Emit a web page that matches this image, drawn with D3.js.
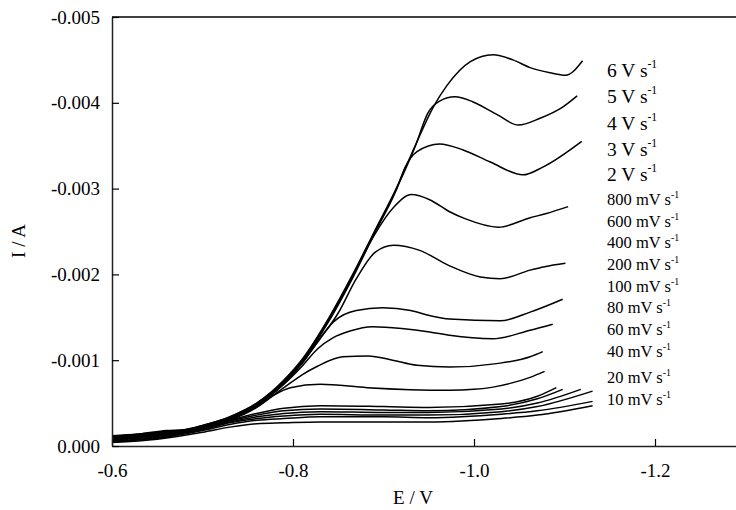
<!DOCTYPE html>
<html>
<head>
<meta charset="utf-8">
<script src="https://cdn.jsdelivr.net/npm/d3@7"></script>
<style>
	html, body { margin: 0; padding: 0; background: #fff; }
	svg { display: block; }
	svg text { font-family: "Liberation Serif", "Times New Roman", serif; }
</style>
</head>
<body>
<svg id="cv" width="736" height="510"></svg>
<script>
// scan rate labels (top to bottom) and label baselines
const rateLabels = ["6 V s", "5 V s", "4 V s", "3 V s", "2 V s",
	"800 mV s", "600 mV s", "400 mV s", "200 mV s", "100 mV s",
	"80 mV s", "60 mV s", "40 mV s", "20 mV s", "10 mV s"];
const labelBase = [77, 103, 130, 156, 181, 205, 227, 248, 270, 292, 313, 335, 357, 383, 405];

const xTicks = [-0.6, -0.8, -1.0, -1.2];
const yTicks = [0, -0.001, -0.002, -0.003, -0.004, -0.005];

// [E / V, I / A]
const cv6V = [[-0.60,-0.00012],[-0.63,-0.00014],[-0.66,-0.00018],[-0.68,-0.00019],[-0.70,-0.00024],[-0.73,-0.00034],
	[-0.76,-0.00050],[-0.79,-0.00077],[-0.81,-0.00101],[-0.84,-0.00150],[-0.866,-0.00200],[-0.89,-0.00250],[-0.914,-0.00300],
	[-0.935,-0.00350],[-0.955,-0.00395],[-0.970,-0.00420],[-0.996,-0.00448],[-1.021,-0.00456],[-1.043,-0.00450],
	[-1.062,-0.00441],[-1.084,-0.00435],[-1.101,-0.00432],[-1.120,-0.00449]];
const cv5V = [[-0.60,-0.00011],[-0.63,-0.00014],[-0.66,-0.00017],[-0.68,-0.00019],[-0.70,-0.00024],[-0.73,-0.00034],
	[-0.76,-0.00050],[-0.79,-0.00076],[-0.81,-0.00100],[-0.84,-0.00149],[-0.866,-0.00199],[-0.89,-0.00249],[-0.914,-0.00299],
	[-0.935,-0.00349],[-0.949,-0.00388],[-0.962,-0.00402],[-0.979,-0.00407],[-0.999,-0.00401],[-1.026,-0.00386],
	[-1.049,-0.00374],[-1.073,-0.00382],[-1.098,-0.00395],[-1.114,-0.00408]];
const cv4V = [[-0.60,-0.00011],[-0.63,-0.00013],[-0.66,-0.00017],[-0.68,-0.00018],[-0.70,-0.00023],[-0.73,-0.00033],
	[-0.76,-0.00049],[-0.79,-0.00075],[-0.81,-0.00099],[-0.84,-0.00148],[-0.866,-0.00198],[-0.89,-0.00248],[-0.914,-0.00298],
	[-0.924,-0.00325],[-0.937,-0.00343],[-0.962,-0.00352],[-0.988,-0.00345],[-1.018,-0.00331],[-1.054,-0.00316],
	[-1.076,-0.00325],[-1.119,-0.00355]];
const cv3V = [[-0.60,-0.00010],[-0.63,-0.00013],[-0.66,-0.00016],[-0.68,-0.00018],[-0.70,-0.00023],[-0.73,-0.00033],
	[-0.76,-0.00049],[-0.79,-0.00074],[-0.81,-0.00098],[-0.84,-0.00146],[-0.866,-0.00196],[-0.89,-0.00246],[-0.911,-0.00278],
	[-0.931,-0.00293],[-0.951,-0.00287],[-0.973,-0.00273],[-0.99,-0.00265],[-1.027,-0.00255],[-1.062,-0.00266],
	[-1.08,-0.00271],[-1.104,-0.00279]];
const cv2V = [[-0.60,-0.00010],[-0.63,-0.00012],[-0.66,-0.00016],[-0.68,-0.00017],[-0.70,-0.00022],[-0.73,-0.00032],
	[-0.76,-0.00048],[-0.79,-0.00073],[-0.81,-0.00097],[-0.83,-0.00125],[-0.85,-0.00155],[-0.87,-0.00195],[-0.891,-0.00226],
	[-0.911,-0.00234],[-0.94,-0.00228],[-0.973,-0.00210],[-1.007,-0.00197],[-1.029,-0.00195],[-1.062,-0.00205],
	[-1.078,-0.00209],[-1.101,-0.00213]];
const cv800 = [[-0.60,-0.00010],[-0.63,-0.00012],[-0.66,-0.00016],[-0.68,-0.00017],[-0.70,-0.00022],[-0.73,-0.00032],
	[-0.76,-0.00048],[-0.79,-0.00073],[-0.81,-0.00096],[-0.83,-0.00126],[-0.845,-0.00145],[-0.87,-0.00158],[-0.899,-0.00161],
	[-0.93,-0.00158],[-0.951,-0.00152],[-0.973,-0.00148],[-1.029,-0.00146],[-1.062,-0.00156],[-1.098,-0.00171]];
const cv600 = [[-0.60,-0.00009],[-0.63,-0.00012],[-0.66,-0.00015],[-0.68,-0.00017],[-0.70,-0.00022],[-0.73,-0.00031],
	[-0.76,-0.00047],[-0.79,-0.00072],[-0.81,-0.00093],[-0.827,-0.00113],[-0.844,-0.00126],[-0.863,-0.00134],[-0.888,-0.00139],
	[-0.92,-0.00137],[-0.951,-0.00133],[-0.973,-0.00129],[-1.021,-0.00125],[-1.062,-0.00135],[-1.087,-0.00142]];
const cv400 = [[-0.60,-0.00009],[-0.63,-0.00011],[-0.66,-0.00015],[-0.68,-0.00016],[-0.70,-0.00021],[-0.73,-0.00031],
	[-0.76,-0.00046],[-0.79,-0.00068],[-0.81,-0.00083],[-0.827,-0.00093],[-0.855,-0.00104],[-0.883,-0.00105],[-0.91,-0.00100],
	[-0.937,-0.00094],[-0.973,-0.00092],[-1.025,-0.00096],[-1.062,-0.00104],[-1.076,-0.00110]];
const cv200 = [[-0.60,-0.00009],[-0.63,-0.00011],[-0.66,-0.00015],[-0.68,-0.00016],[-0.70,-0.00021],[-0.73,-0.00030],
	[-0.76,-0.00045],[-0.78,-0.00060],[-0.797,-0.00068],[-0.83,-0.00072],[-0.882,-0.00068],[-0.973,-0.00065],[-1.00,-0.00066],
	[-1.04,-0.00073],[-1.062,-0.00080],[-1.078,-0.00087]];
const cv100 = [[-0.60,-0.00009],[-0.65,-0.00013],[-0.70,-0.00022],[-0.73,-0.00030],[-0.76,-0.00038],[-0.79,-0.00044],
	[-0.83,-0.00047],[-0.90,-0.00046],[-0.95,-0.00045],[-1.03,-0.00049],[-1.07,-0.00058],[-1.091,-0.00068]];
const cv80 = [[-0.60,-0.00008],[-0.65,-0.00012],[-0.70,-0.00021],[-0.73,-0.00029],[-0.76,-0.00036],[-0.79,-0.00041],
	[-0.83,-0.00043],[-0.90,-0.00042],[-0.95,-0.00041],[-1.03,-0.00046],[-1.07,-0.00055],[-1.098,-0.00066]];
const cv60 = [[-0.60,-0.00007],[-0.65,-0.00011],[-0.70,-0.00020],[-0.73,-0.00028],[-0.76,-0.00034],[-0.79,-0.00038],
	[-0.83,-0.00040],[-0.90,-0.00039],[-0.95,-0.00039],[-1.03,-0.00043],[-1.07,-0.00050],[-1.118,-0.00066]];
const cv40 = [[-0.60,-0.00006],[-0.65,-0.00010],[-0.70,-0.00019],[-0.73,-0.00027],[-0.76,-0.00032],[-0.79,-0.00035],
	[-0.83,-0.00037],[-0.90,-0.00036],[-0.95,-0.00036],[-1.03,-0.00040],[-1.07,-0.00046],[-1.131,-0.00064]];
const cv20 = [[-0.60,-0.00005],[-0.65,-0.00009],[-0.70,-0.00018],[-0.73,-0.00025],[-0.76,-0.00030],[-0.79,-0.00032],
	[-0.83,-0.00034],[-0.90,-0.00034],[-0.95,-0.00033],[-1.03,-0.00037],[-1.07,-0.00041],[-1.131,-0.00052]];
const cv10 = [[-0.60,-0.00004],[-0.65,-0.00008],[-0.70,-0.00016],[-0.73,-0.00022],[-0.76,-0.00026],[-0.79,-0.00027],
	[-0.83,-0.00028],[-0.90,-0.00028],[-0.95,-0.00028],[-1.03,-0.00032],[-1.07,-0.00036],[-1.131,-0.00047]];

const curves = [cv6V, cv5V, cv4V, cv3V, cv2V, cv800, cv600, cv400, cv200, cv100, cv80, cv60, cv40, cv20, cv10];

const svg = d3.select("#cv");
const m = { left: 112, top: 17, bottom: 446 };
const serif = '"Liberation Serif", "Times New Roman", serif';

// 0.2 V per 181 px; the frame runs off the right edge of the picture
const x = d3.scaleLinear().domain([-0.6, -1.3]).range([m.left, m.left + 181 * 3.5]);
const y = d3.scaleLinear().domain([0, -0.005]).range([m.bottom, m.top]);

const line = d3.line()
	.x(d => x(d[0]))
	.y(d => y(d[1]))
	.curve(d3.curveMonotoneX);

// frame top line
svg.append("line")
	.attr("x1", m.left).attr("x2", 736)
	.attr("y1", m.top).attr("y2", m.top)
	.attr("stroke", "#000").attr("stroke-width", 1.5);

svg.append("g")
	.selectAll("path")
	.data(curves)
	.join("path")
	.attr("d", line)
	.attr("fill", "none")
	.attr("stroke", "#000")
	.attr("stroke-width", 1.5);

function styleAxis(g) {
	g.attr("font-family", null);
	g.select(".domain").attr("stroke", "#222").attr("stroke-width", 1.5);
	g.selectAll(".tick line").attr("stroke", "#000").attr("stroke-width", 1.2);
	g.selectAll(".tick text")
		.attr("fill", "#000")
		.style("font-family", serif)
		.style("font-size", "19px");
}

svg.append("g")
	.attr("transform", `translate(0, ${m.bottom})`)
	.call(d3.axisBottom(x).tickValues(xTicks).tickSizeInner(-7).tickSizeOuter(0).tickPadding(18)
		.tickFormat(d => d.toFixed(1)))
	.call(styleAxis);

svg.append("g")
	.attr("transform", `translate(${m.left}, 0)`)
	.call(d3.axisLeft(y).tickValues(yTicks).tickSizeInner(-7).tickSizeOuter(0).tickPadding(12)
		.tickFormat(d => d.toFixed(3)))
	.call(styleAxis);

// axis titles
svg.append("text")
	.attr("x", 413).attr("y", 504)
	.attr("text-anchor", "middle").style("font-size", "19px")
	.text("E / V");
svg.append("text")
	.attr("transform", "translate(25, 241) rotate(-90)")
	.attr("text-anchor", "middle").style("font-size", "19px")
	.text("I / A");

// scan rate labels
const lab = svg.append("g").selectAll("text")
	.data(rateLabels)
	.join("text")
	.attr("x", 607)
	.attr("y", (d, i) => labelBase[i])
	.style("font-size", (d, i) => i < 5 ? "19.5px" : "16.5px");
lab.append("tspan").text(d => d);
lab.append("tspan")
	.style("font-size", "0.6em")
	.attr("dy", "-0.75em")
	.text("-1");
</script>
</body>
</html>
